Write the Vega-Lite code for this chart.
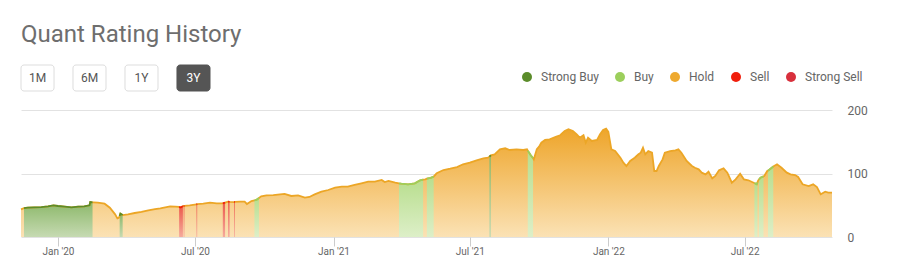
{
 "$schema": "https://vega.github.io/schema/vega-lite/v6.json",
 "background": "white",
 "padding": {"left": 17, "top": 22, "right": 10, "bottom": 5},
 "title": {"text": "Quant Rating History", "anchor": "start", "frame": "group", "fontSize": 24, "font": "Roboto", "fontWeight": "normal", "color": "#6e6e6e", "offset": 18},
 "config": {"view": {"stroke": null}, "font": "Roboto"},
 "spacing": 19,
 "bounds": "flush",
 "vconcat": [
  {
   "width": 189, "height": 26,
   "data": {"values": [{"range": "1M"}, {"range": "6M"}, {"range": "1Y"}, {"range": "3Y"}]},
   "encoding": {"x": {"field": "range", "type": "nominal", "sort": null, "axis": null, "scale": {"paddingInner": 0.365, "paddingOuter": 0}}},
   "layer": [
    {"mark": {"type": "bar", "cornerRadius": 3, "strokeWidth": 1},
     "encoding": {
      "fill": {"condition": {"test": "datum.range === '3Y'", "value": "#555555"}, "value": "#ffffff"},
      "stroke": {"condition": {"test": "datum.range === '3Y'", "value": "#555555"}, "value": "#dddddd"}}},
    {"mark": {"type": "text", "fontSize": 12, "font": "Roboto"},
     "encoding": {
      "text": {"field": "range"},
      "color": {"condition": {"test": "datum.range === '3Y'", "value": "#ffffff"}, "value": "#555555"}}}
   ]
  },
  {
   "width": 811, "height": 127,
   "data": {"values": [
    {"date": "2019-11-13", "price": 43.6, "rating": "Hold", "period": 0},
    {"date": "2019-11-16", "price": 45.0, "rating": "Hold", "period": 0},
    {"date": "2019-11-17", "price": 45.5, "rating": "Strong Buy", "period": 1},
    {"date": "2019-11-22", "price": 46.2, "rating": "Strong Buy", "period": 1},
    {"date": "2019-12-01", "price": 46.7, "rating": "Strong Buy", "period": 1},
    {"date": "2019-12-10", "price": 47.2, "rating": "Strong Buy", "period": 1},
    {"date": "2019-12-19", "price": 48.3, "rating": "Strong Buy", "period": 1},
    {"date": "2019-12-26", "price": 49.9, "rating": "Strong Buy", "period": 1},
    {"date": "2020-01-01", "price": 48.8, "rating": "Strong Buy", "period": 1},
    {"date": "2020-01-10", "price": 47.8, "rating": "Strong Buy", "period": 1},
    {"date": "2020-01-19", "price": 46.7, "rating": "Strong Buy", "period": 1},
    {"date": "2020-01-28", "price": 47.8, "rating": "Strong Buy", "period": 1},
    {"date": "2020-02-05", "price": 48.3, "rating": "Strong Buy", "period": 1},
    {"date": "2020-02-12", "price": 49.9, "rating": "Strong Buy", "period": 1},
    {"date": "2020-02-13", "price": 55.1, "rating": "Strong Buy", "period": 1},
    {"date": "2020-02-16", "price": 54.6, "rating": "Strong Buy", "period": 1},
    {"date": "2020-02-17", "price": 54.5, "rating": "Hold", "period": 0},
    {"date": "2020-02-23", "price": 54.0, "rating": "Hold", "period": 0},
    {"date": "2020-03-03", "price": 52.5, "rating": "Hold", "period": 0},
    {"date": "2020-03-10", "price": 46.2, "rating": "Hold", "period": 0},
    {"date": "2020-03-17", "price": 35.7, "rating": "Hold", "period": 0},
    {"date": "2020-03-20", "price": 29.4, "rating": "Hold", "period": 0},
    {"date": "2020-03-22", "price": 30.4, "rating": "Hold", "period": 0},
    {"date": "2020-03-23", "price": 33.0, "rating": "Strong Buy", "period": 2},
    {"date": "2020-03-24", "price": 36.7, "rating": "Strong Buy", "period": 2},
    {"date": "2020-03-27", "price": 34.6, "rating": "Strong Buy", "period": 2},
    {"date": "2020-04-03", "price": 35.7, "rating": "Hold", "period": 0},
    {"date": "2020-04-12", "price": 37.8, "rating": "Hold", "period": 0},
    {"date": "2020-04-21", "price": 39.4, "rating": "Hold", "period": 0},
    {"date": "2020-04-30", "price": 42.0, "rating": "Hold", "period": 0},
    {"date": "2020-05-09", "price": 44.0, "rating": "Hold", "period": 0},
    {"date": "2020-05-16", "price": 45.2, "rating": "Hold", "period": 0},
    {"date": "2020-05-29", "price": 48.3, "rating": "Hold", "period": 0},
    {"date": "2020-06-05", "price": 47.8, "rating": "Hold", "period": 0},
    {"date": "2020-06-10", "price": 47.5, "rating": "Sell", "period": 13},
    {"date": "2020-06-12", "price": 46.5, "rating": "Sell", "period": 13},
    {"date": "2020-06-15", "price": 48.5, "rating": "Sell", "period": 13},
    {"date": "2020-06-16", "price": 48.8, "rating": "Sell", "period": 14},
    {"date": "2020-06-17", "price": 49.0, "rating": "Sell", "period": 14},
    {"date": "2020-06-24", "price": 49.9, "rating": "Hold", "period": 0},
    {"date": "2020-07-03", "price": 51.5, "rating": "Sell", "period": 15},
    {"date": "2020-07-04", "price": 51.7, "rating": "Sell", "period": 15},
    {"date": "2020-07-12", "price": 52.5, "rating": "Hold", "period": 0},
    {"date": "2020-07-21", "price": 54.0, "rating": "Hold", "period": 0},
    {"date": "2020-07-30", "price": 53.0, "rating": "Hold", "period": 0},
    {"date": "2020-08-07", "price": 53.0, "rating": "Sell", "period": 16},
    {"date": "2020-08-10", "price": 54.0, "rating": "Sell", "period": 16},
    {"date": "2020-08-14", "price": 55.6, "rating": "Sell", "period": 17},
    {"date": "2020-08-16", "price": 55.4, "rating": "Sell", "period": 17},
    {"date": "2020-08-22", "price": 55.0, "rating": "Sell", "period": 18},
    {"date": "2020-08-23", "price": 55.2, "rating": "Sell", "period": 18},
    {"date": "2020-08-30", "price": 55.6, "rating": "Hold", "period": 0},
    {"date": "2020-09-05", "price": 55.6, "rating": "Hold", "period": 0},
    {"date": "2020-09-08", "price": 52.0, "rating": "Hold", "period": 0},
    {"date": "2020-09-14", "price": 56.7, "rating": "Hold", "period": 0},
    {"date": "2020-09-18", "price": 57.5, "rating": "Buy", "period": 4},
    {"date": "2020-09-21", "price": 58.8, "rating": "Buy", "period": 4},
    {"date": "2020-09-24", "price": 61.5, "rating": "Buy", "period": 4},
    {"date": "2020-09-27", "price": 64.0, "rating": "Hold", "period": 0},
    {"date": "2020-10-04", "price": 65.6, "rating": "Hold", "period": 0},
    {"date": "2020-10-13", "price": 66.1, "rating": "Hold", "period": 0},
    {"date": "2020-10-22", "price": 67.2, "rating": "Hold", "period": 0},
    {"date": "2020-10-28", "price": 68.0, "rating": "Hold", "period": 0},
    {"date": "2020-11-06", "price": 64.6, "rating": "Hold", "period": 0},
    {"date": "2020-11-15", "price": 65.6, "rating": "Hold", "period": 0},
    {"date": "2020-11-24", "price": 61.9, "rating": "Hold", "period": 0},
    {"date": "2020-11-30", "price": 63.0, "rating": "Hold", "period": 0},
    {"date": "2020-12-07", "price": 67.2, "rating": "Hold", "period": 0},
    {"date": "2020-12-16", "price": 71.4, "rating": "Hold", "period": 0},
    {"date": "2020-12-25", "price": 74.0, "rating": "Hold", "period": 0},
    {"date": "2021-01-03", "price": 77.7, "rating": "Hold", "period": 0},
    {"date": "2021-01-12", "price": 79.2, "rating": "Hold", "period": 0},
    {"date": "2021-01-20", "price": 79.2, "rating": "Hold", "period": 0},
    {"date": "2021-01-29", "price": 81.9, "rating": "Hold", "period": 0},
    {"date": "2021-02-07", "price": 84.5, "rating": "Hold", "period": 0},
    {"date": "2021-02-16", "price": 87.1, "rating": "Hold", "period": 0},
    {"date": "2021-02-25", "price": 87.1, "rating": "Hold", "period": 0},
    {"date": "2021-03-06", "price": 89.8, "rating": "Hold", "period": 0},
    {"date": "2021-03-10", "price": 86.6, "rating": "Hold", "period": 0},
    {"date": "2021-03-15", "price": 88.2, "rating": "Hold", "period": 0},
    {"date": "2021-03-24", "price": 85.6, "rating": "Hold", "period": 0},
    {"date": "2021-03-29", "price": 84.5, "rating": "Buy", "period": 7},
    {"date": "2021-04-01", "price": 84.0, "rating": "Buy", "period": 7},
    {"date": "2021-04-10", "price": 83.0, "rating": "Buy", "period": 7},
    {"date": "2021-04-19", "price": 84.5, "rating": "Buy", "period": 7},
    {"date": "2021-04-26", "price": 89.3, "rating": "Buy", "period": 7},
    {"date": "2021-04-30", "price": 90.5, "rating": "Buy", "period": 7},
    {"date": "2021-05-03", "price": 90.8, "rating": "Hold", "period": 0},
    {"date": "2021-05-05", "price": 91.9, "rating": "Buy", "period": 8},
    {"date": "2021-05-10", "price": 93.0, "rating": "Buy", "period": 8},
    {"date": "2021-05-14", "price": 95.0, "rating": "Buy", "period": 8},
    {"date": "2021-05-18", "price": 100.3, "rating": "Hold", "period": 0},
    {"date": "2021-05-27", "price": 105.5, "rating": "Hold", "period": 0},
    {"date": "2021-06-05", "price": 107.6, "rating": "Hold", "period": 0},
    {"date": "2021-06-14", "price": 110.2, "rating": "Hold", "period": 0},
    {"date": "2021-06-22", "price": 114.5, "rating": "Hold", "period": 0},
    {"date": "2021-07-01", "price": 117.0, "rating": "Hold", "period": 0},
    {"date": "2021-07-10", "price": 120.8, "rating": "Hold", "period": 0},
    {"date": "2021-07-19", "price": 123.9, "rating": "Hold", "period": 0},
    {"date": "2021-07-25", "price": 124.9, "rating": "Hold", "period": 0},
    {"date": "2021-07-27", "price": 126.5, "rating": "Strong Buy", "period": 3},
    {"date": "2021-07-29", "price": 128.6, "rating": "Strong Buy", "period": 3},
    {"date": "2021-08-03", "price": 130.2, "rating": "Hold", "period": 0},
    {"date": "2021-08-10", "price": 138.1, "rating": "Hold", "period": 0},
    {"date": "2021-08-17", "price": 139.7, "rating": "Hold", "period": 0},
    {"date": "2021-08-23", "price": 137.0, "rating": "Hold", "period": 0},
    {"date": "2021-09-01", "price": 138.1, "rating": "Hold", "period": 0},
    {"date": "2021-09-10", "price": 137.0, "rating": "Hold", "period": 0},
    {"date": "2021-09-15", "price": 138.1, "rating": "Hold", "period": 0},
    {"date": "2021-09-16", "price": 136.0, "rating": "Buy", "period": 9},
    {"date": "2021-09-20", "price": 128.6, "rating": "Buy", "period": 9},
    {"date": "2021-09-23", "price": 124.0, "rating": "Buy", "period": 9},
    {"date": "2021-09-24", "price": 122.3, "rating": "Hold", "period": 0},
    {"date": "2021-09-28", "price": 138.1, "rating": "Hold", "period": 0},
    {"date": "2021-10-01", "price": 142.2, "rating": "Hold", "period": 0},
    {"date": "2021-10-04", "price": 148.5, "rating": "Hold", "period": 0},
    {"date": "2021-10-09", "price": 152.8, "rating": "Hold", "period": 0},
    {"date": "2021-10-15", "price": 153.8, "rating": "Hold", "period": 0},
    {"date": "2021-10-24", "price": 158.0, "rating": "Hold", "period": 0},
    {"date": "2021-10-29", "price": 160.2, "rating": "Hold", "period": 0},
    {"date": "2021-11-04", "price": 166.9, "rating": "Hold", "period": 0},
    {"date": "2021-11-09", "price": 169.6, "rating": "Hold", "period": 0},
    {"date": "2021-11-15", "price": 166.9, "rating": "Hold", "period": 0},
    {"date": "2021-11-20", "price": 161.7, "rating": "Hold", "period": 0},
    {"date": "2021-11-24", "price": 156.4, "rating": "Hold", "period": 0},
    {"date": "2021-11-29", "price": 160.2, "rating": "Hold", "period": 0},
    {"date": "2021-12-02", "price": 148.5, "rating": "Hold", "period": 0},
    {"date": "2021-12-05", "price": 156.4, "rating": "Hold", "period": 0},
    {"date": "2021-12-10", "price": 151.2, "rating": "Hold", "period": 0},
    {"date": "2021-12-17", "price": 152.8, "rating": "Hold", "period": 0},
    {"date": "2021-12-21", "price": 161.7, "rating": "Hold", "period": 0},
    {"date": "2021-12-25", "price": 168.5, "rating": "Hold", "period": 0},
    {"date": "2021-12-29", "price": 170.6, "rating": "Hold", "period": 0},
    {"date": "2022-01-01", "price": 165.4, "rating": "Hold", "period": 0},
    {"date": "2022-01-05", "price": 138.1, "rating": "Hold", "period": 0},
    {"date": "2022-01-10", "price": 135.4, "rating": "Hold", "period": 0},
    {"date": "2022-01-17", "price": 124.9, "rating": "Hold", "period": 0},
    {"date": "2022-01-21", "price": 117.0, "rating": "Hold", "period": 0},
    {"date": "2022-01-25", "price": 111.8, "rating": "Hold", "period": 0},
    {"date": "2022-01-30", "price": 119.7, "rating": "Hold", "period": 0},
    {"date": "2022-02-05", "price": 124.9, "rating": "Hold", "period": 0},
    {"date": "2022-02-10", "price": 130.2, "rating": "Hold", "period": 0},
    {"date": "2022-02-13", "price": 132.8, "rating": "Hold", "period": 0},
    {"date": "2022-02-16", "price": 140.7, "rating": "Hold", "period": 0},
    {"date": "2022-02-19", "price": 130.2, "rating": "Hold", "period": 0},
    {"date": "2022-02-23", "price": 135.4, "rating": "Hold", "period": 0},
    {"date": "2022-02-28", "price": 132.8, "rating": "Hold", "period": 0},
    {"date": "2022-03-03", "price": 103.9, "rating": "Hold", "period": 0},
    {"date": "2022-03-06", "price": 103.9, "rating": "Hold", "period": 0},
    {"date": "2022-03-09", "price": 111.8, "rating": "Hold", "period": 0},
    {"date": "2022-03-14", "price": 122.3, "rating": "Hold", "period": 0},
    {"date": "2022-03-17", "price": 132.8, "rating": "Hold", "period": 0},
    {"date": "2022-03-24", "price": 135.4, "rating": "Hold", "period": 0},
    {"date": "2022-03-31", "price": 136.5, "rating": "Hold", "period": 0},
    {"date": "2022-04-04", "price": 138.1, "rating": "Hold", "period": 0},
    {"date": "2022-04-08", "price": 132.8, "rating": "Hold", "period": 0},
    {"date": "2022-04-15", "price": 119.7, "rating": "Hold", "period": 0},
    {"date": "2022-04-22", "price": 111.8, "rating": "Hold", "period": 0},
    {"date": "2022-04-26", "price": 109.1, "rating": "Hold", "period": 0},
    {"date": "2022-05-01", "price": 106.6, "rating": "Hold", "period": 0},
    {"date": "2022-05-05", "price": 101.3, "rating": "Hold", "period": 0},
    {"date": "2022-05-10", "price": 98.7, "rating": "Hold", "period": 0},
    {"date": "2022-05-14", "price": 102.8, "rating": "Hold", "period": 0},
    {"date": "2022-05-19", "price": 92.4, "rating": "Hold", "period": 0},
    {"date": "2022-05-23", "price": 96.1, "rating": "Hold", "period": 0},
    {"date": "2022-05-28", "price": 105.0, "rating": "Hold", "period": 0},
    {"date": "2022-06-03", "price": 108.2, "rating": "Hold", "period": 0},
    {"date": "2022-06-08", "price": 101.3, "rating": "Hold", "period": 0},
    {"date": "2022-06-14", "price": 85.5, "rating": "Hold", "period": 0},
    {"date": "2022-06-19", "price": 90.8, "rating": "Hold", "period": 0},
    {"date": "2022-06-25", "price": 99.7, "rating": "Hold", "period": 0},
    {"date": "2022-06-30", "price": 90.8, "rating": "Hold", "period": 0},
    {"date": "2022-07-06", "price": 89.3, "rating": "Hold", "period": 0},
    {"date": "2022-07-13", "price": 85.5, "rating": "Hold", "period": 0},
    {"date": "2022-07-14", "price": 85.0, "rating": "Buy", "period": 10},
    {"date": "2022-07-17", "price": 83.0, "rating": "Buy", "period": 10},
    {"date": "2022-07-18", "price": 86.0, "rating": "Buy", "period": 10},
    {"date": "2022-07-19", "price": 89.0, "rating": "Hold", "period": 0},
    {"date": "2022-07-20", "price": 90.5, "rating": "Buy", "period": 11},
    {"date": "2022-07-22", "price": 93.4, "rating": "Buy", "period": 11},
    {"date": "2022-07-26", "price": 95.5, "rating": "Buy", "period": 11},
    {"date": "2022-07-27", "price": 96.1, "rating": "Hold", "period": 0},
    {"date": "2022-07-31", "price": 103.9, "rating": "Hold", "period": 0},
    {"date": "2022-08-01", "price": 104.5, "rating": "Buy", "period": 12},
    {"date": "2022-08-06", "price": 109.1, "rating": "Buy", "period": 12},
    {"date": "2022-08-08", "price": 111.0, "rating": "Buy", "period": 12},
    {"date": "2022-08-13", "price": 114.5, "rating": "Hold", "period": 0},
    {"date": "2022-08-19", "price": 109.1, "rating": "Hold", "period": 0},
    {"date": "2022-08-26", "price": 101.3, "rating": "Hold", "period": 0},
    {"date": "2022-08-31", "price": 98.7, "rating": "Hold", "period": 0},
    {"date": "2022-09-06", "price": 97.6, "rating": "Hold", "period": 0},
    {"date": "2022-09-10", "price": 94.5, "rating": "Hold", "period": 0},
    {"date": "2022-09-16", "price": 83.0, "rating": "Hold", "period": 0},
    {"date": "2022-09-24", "price": 80.3, "rating": "Hold", "period": 0},
    {"date": "2022-09-30", "price": 83.0, "rating": "Hold", "period": 0},
    {"date": "2022-10-05", "price": 78.7, "rating": "Hold", "period": 0},
    {"date": "2022-10-10", "price": 67.2, "rating": "Hold", "period": 0},
    {"date": "2022-10-16", "price": 71.3, "rating": "Hold", "period": 0},
    {"date": "2022-10-20", "price": 69.8, "rating": "Hold", "period": 0},
    {"date": "2022-10-25", "price": 69.8, "rating": "Hold", "period": 0}
   ]},
   "encoding": {
    "x": {"field": "date", "type": "temporal",
     "scale": {"domain": [{"year": 2019, "month": 11, "date": 13}, {"year": 2022, "month": 10, "date": 25}], "nice": false},
     "axis": {"title": null, "values": [{"year": 2020, "month": 1, "date": 1}, {"year": 2020, "month": 7, "date": 1}, {"year": 2021, "month": 1, "date": 1}, {"year": 2021, "month": 7, "date": 1}, {"year": 2022, "month": 1, "date": 1}, {"year": 2022, "month": 7, "date": 1}],
      "format": "%b '%y", "labelFontSize": 10, "labelColor": "#666666", "labelFont": "Roboto", "tickColor": "#cccccc", "tickSize": 9, "domain": false, "grid": false, "labelPadding": 0}},
    "y": {"field": "price", "type": "quantitative", "stack": null,
     "scale": {"domain": [0, 200], "nice": false},
     "axis": {"title": null, "orient": "right", "values": [0, 100, 200], "labelFontSize": 12, "labelColor": "#666666", "labelFont": "Roboto", "ticks": false, "domain": false, "gridColor": "#e2e2e2", "labelPadding": 15, "labelAlign": "left"}}
   },
   "layer": [
    {"mark": {"type": "area", "fill": {"gradient": "linear", "x1": 0, "x2": 0, "y1": 0, "y2": 1, "stops": [{"offset": 0, "color": "#eea52a"}, {"offset": 1, "color": "#fbe2b5"}]}}},
    {"transform": [{"filter": "datum.rating === 'Strong Buy'"}],
     "mark": {"type": "area", "fill": {"gradient": "linear", "x1": 0, "x2": 0, "y1": 0, "y2": 1, "stops": [{"offset": 0, "color": "#8cb86a"}, {"offset": 1, "color": "#c6dab2"}]}},
     "encoding": {"detail": {"field": "period", "type": "nominal"}}},
    {"transform": [{"filter": "datum.rating === 'Buy'"}],
     "mark": {"type": "area", "fill": {"gradient": "linear", "x1": 0, "x2": 0, "y1": 0, "y2": 1, "stops": [{"offset": 0, "color": "#b8de8e"}, {"offset": 1, "color": "#ddefc8"}]}},
     "encoding": {"detail": {"field": "period", "type": "nominal"}}},
    {"transform": [{"filter": "datum.rating === 'Sell'"}],
     "mark": {"type": "area", "fill": {"gradient": "linear", "x1": 0, "x2": 0, "y1": 0, "y2": 1, "stops": [{"offset": 0, "color": "#ec5a4c"}, {"offset": 1, "color": "#f5aa9c"}]}},
     "encoding": {"detail": {"field": "period", "type": "nominal"}}},
    {"mark": {"type": "line", "color": "#eca626", "strokeWidth": 1.8}},
    {"transform": [{"filter": "datum.rating !== 'Hold'"}],
     "mark": {"type": "line", "strokeWidth": 1.8},
     "encoding": {
      "detail": {"field": "period", "type": "nominal"},
      "color": {"field": "rating", "type": "nominal",
       "scale": {"domain": ["Strong Buy", "Buy", "Hold", "Sell", "Strong Sell"], "range": ["#5b8c2a", "#9ccf5c", "#eea92e", "#f01e0c", "#d8303c"]},
       "legend": {"title": null, "orient": "none", "legendX": 500, "legendY": 6, "direction": "horizontal", "symbolType": "circle", "symbolSize": 100, "symbolStrokeWidth": 0, "labelFontSize": 12, "labelColor": "#666666", "labelFont": "Roboto", "columnPadding": 15, "labelOffset": 8,
        "encode": {"symbols": {"update": {"fill": {"scale": "color", "field": "value"}, "opacity": {"value": 1}}}}}}}}
   ]
  }
 ]
}
